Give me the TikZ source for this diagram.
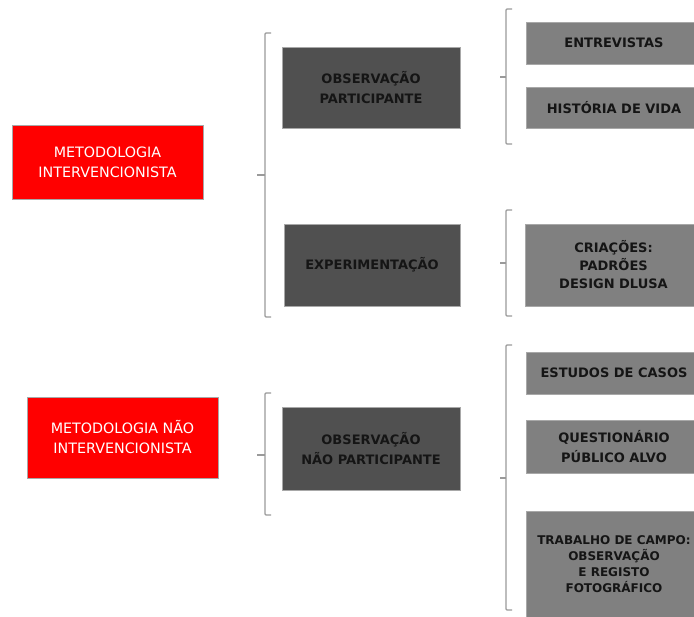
\documentclass[tikz,border=0pt]{standalone}
\usepackage{fontspec}
\setmainfont{DejaVu Sans}
\definecolor{redbox}{HTML}{FF0000}
\definecolor{darkbox}{HTML}{505050}
\definecolor{lightbox}{HTML}{808080}
\definecolor{edgegray}{HTML}{A8A8A8}
\definecolor{bracegray}{HTML}{9A9A9A}
\definecolor{txtdark}{HTML}{151515}
\tikzset{
  basebox/.style={draw=edgegray, line width=0.8pt, inner sep=0pt, align=center},
  redb/.style={basebox, fill=redbox, text=white, font=\fontsize{14.3}{20}\selectfont},
  darkb/.style={basebox, fill=darkbox, text=txtdark, font=\bfseries\fontsize{13}{20}\selectfont},
  lightb/.style={basebox, fill=lightbox, text=txtdark, font=\bfseries\fontsize{13}{19}\selectfont},
  bracket/.style={draw=bracegray, line width=1.3pt, rounded corners=1pt},
}
\begin{document}
\begin{tikzpicture}[x=1pt,y=-1pt]
\useasboundingbox (0,0) rectangle (694,617);
\clip (0,0) rectangle (694,617);
\fill[white] (0,0) rectangle (694,617);
% red boxes
\node[redb, minimum width=191pt, minimum height=74pt] (m1) at (107.5,162) {METODOLOGIA\\INTERVENCIONISTA};
\node[redb, minimum width=191pt, minimum height=81pt] (m2) at (122.5,437.5) {METODOLOGIA NÃO\\INTERVENCIONISTA};
% dark boxes
\node[darkb, minimum width=178pt, minimum height=81pt] (op) at (371,87.5) {OBSERVAÇÃO\\PARTICIPANTE};
\node[darkb, minimum width=176pt, minimum height=82pt] (ex) at (372,265) {EXPERIMENTAÇÃO};
\node[darkb, minimum width=178pt, minimum height=83pt] (onp) at (371,448.5) {OBSERVAÇÃO\\NÃO PARTICIPANTE};
% light boxes
\node[lightb, minimum width=176pt, minimum height=42pt] (en) at (614,43) {ENTREVISTAS};
\node[lightb, minimum width=176pt, minimum height=41pt] (hv) at (614,107.5) {HISTÓRIA DE VIDA};
\node[lightb, minimum width=177pt, minimum height=82pt, font=\bfseries\fontsize{13}{18}\selectfont] (cr) at (613.5,265) {CRIAÇÕES:\\PADRÕES\\DESIGN DLUSA};
\node[lightb, minimum width=176pt, minimum height=42pt] (es) at (614,373) {ESTUDOS DE CASOS};
\node[lightb, minimum width=176pt, minimum height=53pt, font=\bfseries\fontsize{13}{20}\selectfont] (qu) at (614,446.5) {QUESTIONÁRIO\\PÚBLICO ALVO};
\node[lightb, minimum width=176pt, minimum height=106pt, font=\bfseries\fontsize{12}{16}\selectfont] (tr) at (614,564) {TRABALHO DE CAMPO:\\OBSERVAÇÃO\\E REGISTO\\FOTOGRÁFICO};
% bracket coordinates
\coordinate (b1t) at (265,33);  \coordinate (b1b) at (265,317); \coordinate (b1m) at (265,175); \coordinate (b1k) at (257,175);
\coordinate (b2t) at (506,9);   \coordinate (b2b) at (506,144); \coordinate (b2m) at (506,77);  \coordinate (b2k) at (500,77);
\coordinate (b3t) at (506,210); \coordinate (b3b) at (506,316); \coordinate (b3m) at (506,263); \coordinate (b3k) at (500,263);
\coordinate (b4t) at (265,393); \coordinate (b4b) at (265,515); \coordinate (b4m) at (265,455); \coordinate (b4k) at (257,455);
\coordinate (b5t) at (506,345); \coordinate (b5b) at (506,610); \coordinate (b5m) at (506,478); \coordinate (b5k) at (500,478);
% brackets
\foreach \b in {b1,b2,b3,b4,b5}{
  \draw[bracket] ([xshift=6pt]\b t) -- (\b t) -- (\b b) -- ([xshift=6pt]\b b);
  \draw[bracket] (\b k) -- (\b m);
}
\end{tikzpicture}
\end{document}
